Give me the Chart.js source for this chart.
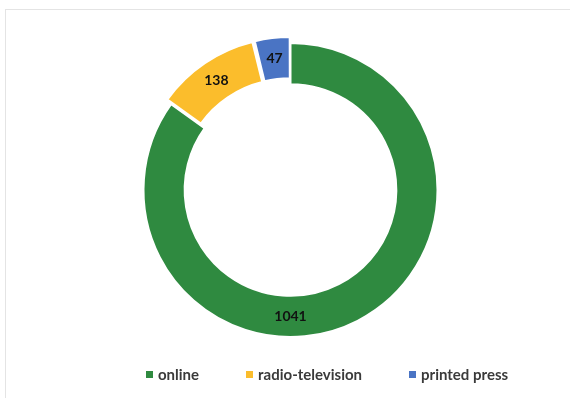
<!DOCTYPE html>
<html>
<head>
<meta charset="utf-8">
<script src="https://cdn.jsdelivr.net/npm/chart.js@4/dist/chart.umd.min.js"></script>
<style>
  html, body { margin: 0; padding: 0; background: #fff; }
  body { width: 570px; height: 398px; position: relative; overflow: hidden; }
  .frame {
    position: absolute; left: 5px; top: 9px; width: 600px; height: 420px;
    border: 1px solid #e4e4e4; box-sizing: border-box;
  }
  #chart { position: absolute; left: 0; top: 0; }
  .legend {
    position: absolute; left: 146px; top: 365px;
    display: flex; gap: 47px; align-items: center;
    font: bold 15px Lato, 'Open Sans', sans-serif; color: #3a3a3a;
  }
  .legend span.item { display: flex; align-items: center; }
  .legend i { display: inline-block; width: 7px; height: 7px; margin-right: 5px; }
</style>
</head>
<body>
<div class="frame"></div>
<canvas id="chart" width="570" height="398"></canvas>
<div class="legend" id="legend"></div>
<script>
'use strict';

// ── Data ─────────────────────────────────────────────────────────
const LABELS  = ['online', 'radio-television', 'printed press'];
const VALUES  = [1041, 138, 47];
const COLORS  = ['#2f8a40', '#fbbd2c', '#4a74c4'];
const EXPLODE = [0, 6, 6];   // px pulled out from the centre

// Chart.js moves an arc by offset/4 * (2 - sin(circumference)),
// so turn the wanted shift in px back into its offset option
function arcOffset(ctx) {
  const px = EXPLODE[ctx.dataIndex] || 0;
  if (!px) return 0;
  const total = VALUES.reduce((a, b) => a + b, 0);
  const circ = VALUES[ctx.dataIndex] / total * Math.PI * 2;
  return px * 4 / (2 - Math.sin(Math.min(Math.PI, circ)));
}

// ── Value labels in the middle of the ring ───────────────────────
// anchorDeg: optional fixed angle (clockwise from top) per slice
const ringLabels = {
  id: 'ringLabels',
  afterDatasetsDraw(chart, args, opts) {
    const { ctx } = chart;
    const meta = chart.getDatasetMeta(0);
    ctx.save();
    ctx.font = 'bold 14px Lato, "Open Sans", sans-serif';
    ctx.fillStyle = '#111';
    ctx.textAlign = 'center';
    ctx.textBaseline = 'middle';
    meta.data.forEach((arc, i) => {
      const p = arc.getProps(['x', 'y', 'startAngle', 'endAngle', 'innerRadius', 'outerRadius']);
      const fixed = opts.anchorDeg[i];
      const angle = fixed != null
        ? (fixed - 90) * Math.PI / 180
        : (p.startAngle + p.endAngle) / 2;
      const r = (p.innerRadius + p.outerRadius) / 2 + (EXPLODE[i] || 0);
      ctx.fillText(String(VALUES[i]), p.x + Math.cos(angle) * r, p.y + Math.sin(angle) * r);
    });
    ctx.restore();
  },
};

new Chart(document.getElementById('chart'), {
  type: 'doughnut',
  data: {
    labels: LABELS,
    datasets: [{
      data: VALUES,
      backgroundColor: COLORS,
      borderColor: '#ffffff',
      borderWidth: 2,
      offset: arcOffset,
      clip: false,
    }],
  },
  options: {
    responsive: false,
    animation: false,
    radius: 147,
    cutout: '72%',
    layout: { padding: { left: 11, right: 0, top: 0, bottom: 18 } },
    plugins: {
      legend: { display: false },
      tooltip: { enabled: false },
      ringLabels: { anchorDeg: [180, null, null] },
    },
  },
  plugins: [ringLabels],
});

// ── HTML legend ──────────────────────────────────────────────────
document.getElementById('legend').innerHTML = LABELS.map((l, i) =>
  `<span class="item"><i style="background:${COLORS[i]}"></i>${l}</span>`).join('');
</script>
</body>
</html>
